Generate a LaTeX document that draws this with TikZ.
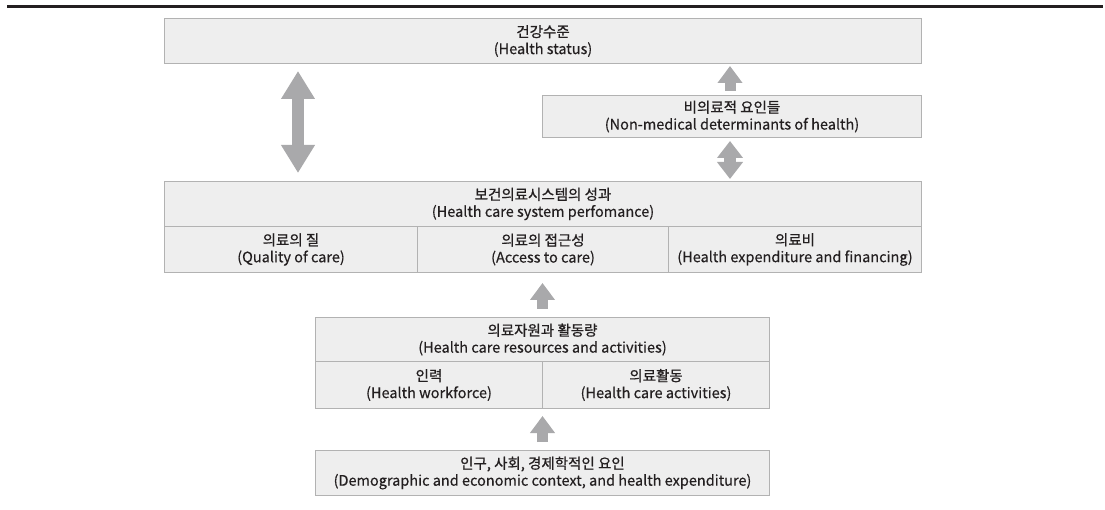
\documentclass[tikz,border=0pt]{standalone}
\usepackage{fontspec}
\setmainfont{Noto Sans CJK KR}[FakeBold=0.35]
\newfontfamily\korfam{Noto Sans CJK KR}[FakeBold=0.8]
\usetikzlibrary{arrows.meta,calc}
\definecolor{boxfill}{HTML}{EEEEEE}
\definecolor{boxline}{HTML}{B2B2B2}
\definecolor{arrowgray}{HTML}{A9A9AB}
\definecolor{ink}{HTML}{231F20}
\newcommand{\korsz}{\korfam\fontsize{14.5}{17}\selectfont}
\tikzset{
  box/.style={draw=boxline, line width=1pt, fill=boxfill, anchor=north west,
    inner sep=0pt, align=center, text=ink, font=\fontsize{14.5}{17}\selectfont},
  bigdbl/.style={draw=arrowgray, line width=12pt, line cap=butt,
    {Triangle[width=32pt,length=28pt]}-{Triangle[width=32pt,length=28pt]}},
  smallup/.style={draw=arrowgray, line width=11pt, line cap=butt,
    -{Triangle[width=24pt,length=17pt]}},
  smalldbl/.style={draw=arrowgray, line width=12pt, line cap=butt,
    {Triangle[width=25pt,length=17pt]}-{Triangle[width=25pt,length=17pt]}}
}
\begin{document}
\begin{tikzpicture}[x=1pt,y=-1pt]
\useasboundingbox (0,0) rectangle (1105,510);
\draw[ink, line width=3pt] (7,6.5) -- (1103,6.5);
% boxes
\node[box, minimum width=757pt, minimum height=45pt] (hs) at (164,18)
  {{\korsz 건강수준}\\(Health status)};
\node[box, minimum width=379pt, minimum height=42pt] (nm) at (542,95)
  {{\korsz 비의료적 요인들}\\(Non-medical determinants of health)};
\node[box, minimum width=757pt, minimum height=45pt] (sys) at (164,181)
  {{\korsz 보건의료시스템의 성과}\\(Health care system perfomance)};
\node[box, minimum width=253pt, minimum height=46pt] (q) at (164,226)
  {{\korsz 의료의 질}\\(Quality of care)};
\node[box, minimum width=251pt, minimum height=46pt] (a) at (417,226)
  {{\korsz 의료의 접근성}\\(Access to care)};
\node[box, minimum width=253pt, minimum height=46pt] (e) at (668,226)
  {{\korsz 의료비}\\(Health expenditure and financing)};
\node[box, minimum width=454pt, minimum height=44pt] (res) at (315,317)
  {{\korsz 의료자원과 활동량}\\(Health care resources and activities)};
\node[box, minimum width=227pt, minimum height=47pt] (w) at (315,361)
  {{\korsz 인력}\\(Health workforce)};
\node[box, minimum width=227pt, minimum height=47pt] (act) at (542,361)
  {{\korsz 의료활동}\\(Health care activities)};
\node[box, minimum width=454pt, minimum height=45pt] (dem) at (315,450)
  {{\korsz 인구, 사회, 경제학적인 요인}\\(Demographic and economic context, and health expenditure)};
% arrows
\draw[bigdbl, shorten <=7pt, shorten >=8pt]
  ([xshift=134pt]hs.south west) -- ([xshift=134pt]sys.north west);
\draw[smallup, shorten <=4pt, shorten >=2pt]
  ([xshift=-2pt]nm.north) -- ([xshift=-2pt]nm.north |- hs.south);
\draw[smalldbl, shorten <=3pt, shorten >=2pt]
  ([xshift=-2pt]nm.south) -- ([xshift=-2pt]nm.south |- sys.north);
\draw[smallup, shorten <=8pt, shorten >=10pt]
  (res.north) -- (res.north |- a.south);
\draw[smallup, shorten <=8pt, shorten >=7pt]
  (dem.north) -- (dem.north |- w.south);
\end{tikzpicture}
\end{document}
